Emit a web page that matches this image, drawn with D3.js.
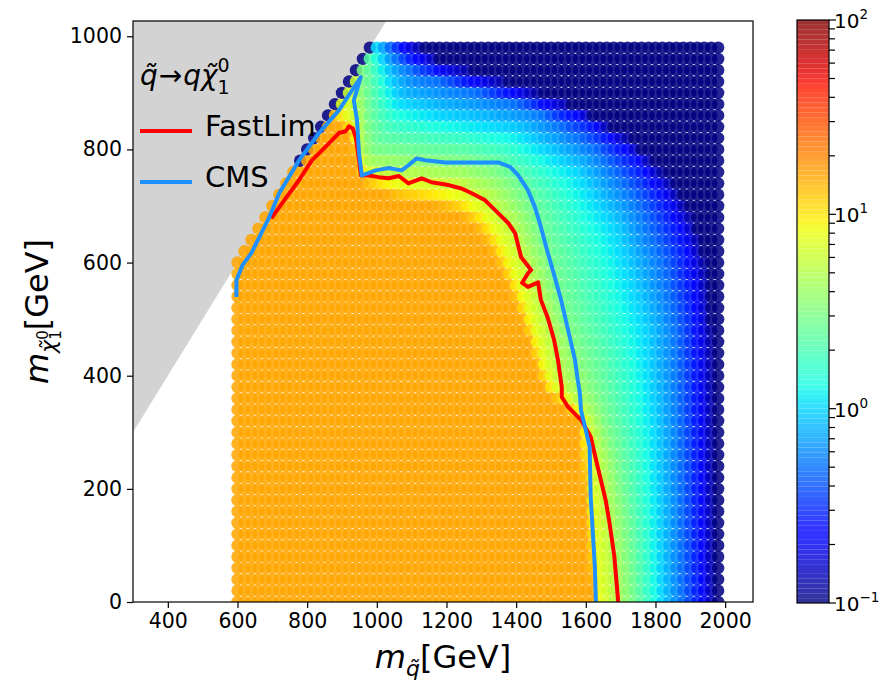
<!DOCTYPE html>
<html>
<head>
<meta charset="utf-8">
<script src="https://cdn.jsdelivr.net/npm/d3@7"></script>
<style>
  body { margin: 0; background: #fff; }
  text { font-family: "DejaVu Sans", sans-serif; fill: #000; }
</style>
</head>
<body>
<svg id="chart" width="881" height="686"></svg>
<script>
// ---- axis ticks ----
const xTicks = [400, 600, 800, 1000, 1200, 1400, 1600, 1800, 2000];
const yTicks = [0, 200, 400, 600, 800, 1000];
const cbarMajor = [0.1, 1, 10, 100];
const cbarExponents = ["\u22121", "0", "1", "2"];

// ---- scan grid (GeV) ----
const squarkMasses = d3.range(600, 1981, 20);
const neutralinoMasses = d3.range(0, 981, 20);

// ---- ratio field: iso-value curves (m_squark, m_neutralino) in GeV ----
const levelValues = [16, 8, 5, 3, 1, 0.5, 0.25, 0.12];
const iso16 = [[855,870],[905,835],[935,812],[945,765],[975,735],[1050,715],[1150,702],[1230,690],[1290,660],[1330,622],[1360,585],[1400,530],[1435,470],[1465,405],[1490,368],[1540,345],[1578,325],[1592,250],[1605,150],[1615,60],[1625,-20]];
const iso8 = [[900,870],[935,840],[950,800],[965,758],[1050,742],[1150,732],[1240,718],[1305,690],[1350,650],[1385,600],[1420,545],[1455,480],[1485,415],[1510,378],[1560,352],[1598,330],[1612,250],[1625,150],[1635,60],[1645,-20]];
const iso5 = [[950,880],[958,800],[980,770],[1100,760],[1250,748],[1335,718],[1395,672],[1435,612],[1468,548],[1505,472],[1530,405],[1570,365],[1620,325],[1650,250],[1670,150],[1682,60],[1690,-20]];
const iso3 = [[965,990],[970,870],[990,800],[1100,790],[1250,782],[1340,765],[1400,735],[1450,680],[1490,610],[1530,530],[1570,470],[1610,410],[1650,340],[1690,250],[1715,150],[1730,60],[1740,-20]];
const iso1 = [[985,1000],[1020,958],[1063,887],[1177,861],[1406,834],[1577,763],[1691,657],[1777,480],[1805,300],[1815,150],[1822,-20]];
const isoHalf = [[1020,1000],[1049,966],[1120,931],[1263,905],[1463,869],[1634,799],[1749,710],[1820,604],[1863,481],[1875,250],[1878,-20]];
const isoQuarter = [[1049,1000],[1091,966],[1206,931],[1406,896],[1606,852],[1749,781],[1840,705],[1895,620],[1922,498],[1930,250],[1932,-20]];
const isoNavy = [[1091,1000],[1180,958],[1360,922],[1560,880],[1730,818],[1845,745],[1915,670],[1950,580],[1965,445],[1970,-20]];
// dots on the diagonal edge above this neutralino mass read as the lowest ratio
const diagonalEdgeFrom = 780;

// ---- exclusion curves (m_squark, m_neutralino) in GeV ----
const fastlimCurve = [[697,678],[734,710],[777,746],[814,781],[834,793],[871,816],[891,829],[911,832],[920,841],[931,837],[940,820],[949,781],[954,754],[977,754],[1006,751],[1034,749],[1063,753],[1091,740],[1100,742],[1129,749],[1157,742],[1206,737],[1243,731],[1271,723],[1311,710],[1349,687],[1377,670],[1397,652],[1414,610],[1443,587],[1434,581],[1417,564],[1434,557],[1463,565],[1471,534],[1491,502],[1509,463],[1520,428],[1531,380],[1531,362],[1549,345],[1586,322],[1614,292],[1634,239],[1643,216],[1657,180],[1668,140],[1682,80],[1693,0]];
const cmsCurve = [[597,539],[597,569],[614,595],[640,617],[691,680],[720,723],[777,781],[834,829],[891,869],[954,928],[934,887],[943,852],[949,793],[957,754],[997,763],[1034,767],[1071,763],[1091,772],[1114,784],[1140,781],[1197,777],[1349,777],[1383,769],[1406,754],[1434,728],[1454,698],[1471,663],[1491,617],[1511,574],[1529,534],[1549,481],[1569,428],[1577,392],[1583,369],[1586,339],[1600,304],[1611,274],[1614,186],[1626,62],[1629,0]];

const seriesNames = ["FastLim", "CMS"];
const seriesColors = ["#ff0000", "#1e90ff"];

// ---- layout ----
const svg = d3.select("#chart");
const plot = { left: 133, right: 753, top: 21, bottom: 602 };
const x = d3.scaleLinear().domain([300, 2080]).range([plot.left, plot.right]);
const y = d3.scaleLinear().domain([0, 1027]).range([plot.bottom, plot.top]);

// jet colour map on a log norm
const jetR = d3.scaleLinear().domain([0, 0.35, 0.66, 0.89, 1]).range([0, 0, 1, 1, 0.5]).clamp(true);
const jetG = d3.scaleLinear().domain([0, 0.125, 0.375, 0.64, 0.91, 1]).range([0, 0, 1, 1, 0, 0]).clamp(true);
const jetB = d3.scaleLinear().domain([0, 0.11, 0.34, 0.65, 1]).range([0.5, 1, 1, 0, 0]).clamp(true);
const norm = d3.scaleLog().domain([0.1, 100]).range([0, 1]).clamp(true);
function jet(v) {
  const t = norm(v);
  return d3.rgb(255 * jetR(t), 255 * jetG(t), 255 * jetB(t)).formatHex();
}

// ---- field evaluation from the iso curves ----
const isoCurves = [iso16, iso8, iso5, iso3, iso1, isoHalf, isoQuarter, isoNavy];
const curvesPx = isoCurves.map(c => c.map(([a, b]) => [x(a), y(b)]));
const regionsPx = isoCurves.map(c => {
  const first = c[0], last = c[c.length - 1];
  return [...c, [last[0], -600], [-2000, -600], [-2000, 3000], [first[0], 3000]].map(([a, b]) => [x(a), y(b)]);
});
function segDist(p, a, b) {
  const dx = b[0] - a[0], dy = b[1] - a[1];
  const L = dx * dx + dy * dy;
  let t = L ? ((p[0] - a[0]) * dx + (p[1] - a[1]) * dy) / L : 0;
  t = Math.max(0, Math.min(1, t));
  const qx = a[0] + t * dx - p[0], qy = a[1] + t * dy - p[1];
  return Math.sqrt(qx * qx + qy * qy);
}
function polyDist(p, pts) {
  let m = Infinity;
  for (let i = 0; i < pts.length - 1; i++) m = Math.min(m, segDist(p, pts[i], pts[i + 1]));
  return m;
}
function ratioAt(mq, mchi) {
  if (mchi >= diagonalEdgeFrom && mq - mchi <= 0) return 0.1;
  const p = [x(mq), y(mchi)];
  const k = regionsPx.findIndex(r => d3.polygonContains(r, p));
  if (k === 0) return levelValues[0];
  if (k === -1) return 0.1;
  const dIn = polyDist(p, curvesPx[k - 1]);
  const dOut = polyDist(p, curvesPx[k]);
  const t = dIn / (dIn + dOut);
  const l0 = Math.log10(levelValues[k - 1]), l1 = Math.log10(levelValues[k]);
  return Math.pow(10, l0 + t * (l1 - l0));
}

const points = [];
neutralinoMasses.forEach(mchi => {
  squarkMasses.forEach(mq => {
    if (mchi <= mq) points.push({ mq, mchi, v: ratioAt(mq, mchi) });
  });
});

// ---- clip ----
svg.append("defs").append("clipPath").attr("id", "plotClip")
  .append("rect").attr("x", plot.left).attr("y", plot.top)
  .attr("width", plot.right - plot.left).attr("height", plot.bottom - plot.top);

const inner = svg.append("g").attr("clip-path", "url(#plotClip)");

// kinematically forbidden region (m_neutralino > m_squark)
inner.append("path")
  .attr("d", d3.line()([[300, 300], [1027, 1027], [300, 1027]].map(([a, b]) => [x(a), y(b)])) + "Z")
  .attr("fill", "#d3d3d3");

// scan points
inner.append("g").selectAll("circle").data(points).join("circle")
  .attr("cx", d => x(d.mq)).attr("cy", d => y(d.mchi)).attr("r", 6.2)
  .attr("fill", d => jet(d.v)).attr("fill-opacity", 0.86);

// exclusion curves
const line = d3.line().x(d => x(d[0])).y(d => y(d[1]));
[fastlimCurve, cmsCurve].forEach((c, i) => {
  inner.append("path").attr("d", line(c)).attr("fill", "none")
    .attr("stroke", seriesColors[i]).attr("stroke-width", 4)
    .attr("stroke-linejoin", "round").attr("stroke-linecap", "butt");
});

// ---- axes ----
const xAxis = svg.append("g").attr("transform", `translate(0,${plot.bottom})`)
  .call(d3.axisBottom(x).tickValues(xTicks).tickSize(6).tickPadding(5).tickFormat(d3.format("d")));
const yAxis = svg.append("g").attr("transform", `translate(${plot.left},0)`)
  .call(d3.axisLeft(y).tickValues(yTicks).tickSize(6).tickPadding(5).tickFormat(d3.format("d")));
[xAxis, yAxis].forEach(a => {
  a.select(".domain").remove();
  a.selectAll("line").attr("stroke", "#000").attr("stroke-width", 1.2);
  a.selectAll("text").attr("font-size", 20.5).attr("font-family", "DejaVu Sans").attr("fill", "#000");
});
svg.append("rect").attr("x", plot.left).attr("y", plot.top)
  .attr("width", plot.right - plot.left).attr("height", plot.bottom - plot.top)
  .attr("fill", "none").attr("stroke", "#000").attr("stroke-width", 1.2);

// ---- math-style text helper ----
function mathText(parent, parts, tx, ty, rotate, anchor) {
  const g = parent.append("g").attr("transform", `translate(${tx},${ty}) rotate(${rotate})`);
  const inner = g.append("g");
  let cx = 0, prevX = 0;
  parts.forEach(p => {
    const startX = p.sameX ? prevX : cx + (p.dx || 0);
    const el = inner.append("text").attr("x", startX).attr("y", p.dy || 0)
      .attr("font-size", p.size).attr("font-style", p.italic ? "italic" : "normal").text(p.t);
    const w = el.node().getComputedTextLength();
    if (p.sameX) cx = Math.max(cx, prevX + w);
    else { prevX = startX; cx = startX + w + (p.after || 0); }
  });
  if (anchor === "middle") inner.attr("transform", `translate(${-cx / 2},0)`);
  return g;
}

// axis labels
mathText(svg, [
  { t: "m", italic: true, size: 32 },
  { t: "q\u0303", italic: true, size: 22, dy: 8 },
  { t: "[GeV]", size: 32 }
], (plot.left + plot.right) / 2, 668, 0, "middle");

mathText(svg, [
  { t: "m", italic: true, size: 32 },
  { t: "\u03c7\u0303", italic: true, size: 22, dy: 8 },
  { t: "0", size: 15, dy: 0 },
  { t: "1", size: 15, dy: 13, sameX: true },
  { t: "[GeV]", size: 32 }
], 48, (plot.top + plot.bottom) / 2, -90, "middle");

// process label
mathText(svg, [
  { t: "q\u0303", italic: true, size: 28 },
  { t: "\u2192", size: 28, dx: 1, after: 1 },
  { t: "q", italic: true, size: 28 },
  { t: "\u03c7\u0303", italic: true, size: 28 },
  { t: "0", size: 19, dy: -13 },
  { t: "1", size: 19, dy: 9, sameX: true }
], 140, 85, 0, "start");

// legend
const legend = svg.append("g");
seriesNames.forEach((name, i) => {
  const ly = 131 + i * 51;
  legend.append("line").attr("x1", 140).attr("x2", 192).attr("y1", ly).attr("y2", ly)
    .attr("stroke", seriesColors[i]).attr("stroke-width", 4);
  legend.append("text").attr("x", 205).attr("y", ly + 5).attr("font-size", 29).text(name);
});

// ---- colour bar ----
const cb = { left: 797, right: 829, top: 20, bottom: 603 };
const cScale = d3.scaleLog().domain([0.1, 100]).range([cb.bottom, cb.top]);
const cbSteps = d3.range(0, 120);
const cbG = svg.append("g");
cbG.selectAll("rect").data(cbSteps).join("rect")
  .attr("x", cb.left).attr("width", cb.right - cb.left)
  .attr("y", i => cScale(Math.pow(10, -1 + 3 * (i + 1) / cbSteps.length)))
  .attr("height", i => cScale(Math.pow(10, -1 + 3 * i / cbSteps.length)) - cScale(Math.pow(10, -1 + 3 * (i + 1) / cbSteps.length)))
  .attr("fill", i => jet(Math.pow(10, -1 + 3 * (i + 0.5) / cbSteps.length)))
  .attr("fill-opacity", 0.8);
cbG.append("rect").attr("x", cb.left).attr("y", cb.top)
  .attr("width", cb.right - cb.left).attr("height", cb.bottom - cb.top)
  .attr("fill", "none").attr("stroke", "#000").attr("stroke-width", 1.2);
const minorTicks = [];
[0.1, 1, 10].forEach(dec => d3.range(2, 10).forEach(m => minorTicks.push(dec * m)));
cbG.selectAll("line.minor").data(minorTicks).join("line").attr("class", "minor")
  .attr("x1", cb.right).attr("x2", cb.right + 6)
  .attr("y1", d => cScale(d)).attr("y2", d => cScale(d))
  .attr("stroke", "#000").attr("stroke-width", 1.2);
cbG.selectAll("line.major").data(cbarMajor).join("line").attr("class", "major")
  .attr("x1", cb.right).attr("x2", cb.right + 7)
  .attr("y1", d => cScale(d)).attr("y2", d => cScale(d))
  .attr("stroke", "#000").attr("stroke-width", 1.2);
cbarMajor.forEach((v, i) => {
  const t = cbG.append("text").attr("x", cb.right + 5).attr("y", cScale(v) + 8).attr("font-size", 20);
  t.append("tspan").text("10");
  t.append("tspan").attr("dy", -9).attr("font-size", 13.5).text(cbarExponents[i]);
});
</script>
</body>
</html>
